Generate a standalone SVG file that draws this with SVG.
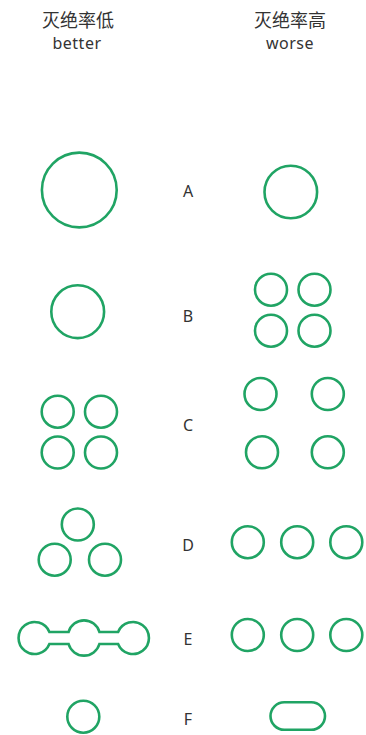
<svg xmlns="http://www.w3.org/2000/svg" width="366" height="735" viewBox="0 0 366 735">
<style>
.s{fill:none;stroke:#20a464;stroke-width:2.6}
.t{font-family:"Noto Sans","Noto Sans CJK SC",sans-serif;font-size:16px;fill:#333;text-anchor:middle}
.c{font-size:18px}
.l{letter-spacing:0.5px}
</style>
<rect width="366" height="735" fill="#fff"/>
<g id="header">
<text class="t c" x="78" y="27">灭绝率低</text>
<text class="t l" x="77" y="49">better</text>
<text class="t c" x="290" y="27">灭绝率高</text>
<text class="t l" x="290" y="49">worse</text>
</g>
<g id="labels">
<text class="t" x="188" y="197">A</text>
<text class="t" x="188" y="322">B</text>
<text class="t" x="188" y="431">C</text>
<text class="t" x="188" y="551">D</text>
<text class="t" x="188" y="645">E</text>
<text class="t" x="188" y="725">F</text>
</g>
<g id="A-better"><circle class="s" cx="79.3" cy="190" r="37.4"/></g>
<g id="A-worse"><circle class="s" cx="290.8" cy="192" r="26.3"/></g>
<g id="B-better"><circle class="s" cx="77.7" cy="311.7" r="26.4"/></g>
<g id="B-worse">
<circle class="s" cx="271" cy="289.7" r="16"/>
<circle class="s" cx="314.5" cy="289.7" r="16"/>
<circle class="s" cx="271" cy="330.7" r="16"/>
<circle class="s" cx="314.5" cy="330.7" r="16"/>
</g>
<g id="C-better">
<circle class="s" cx="57.7" cy="411.7" r="16"/>
<circle class="s" cx="101" cy="411.7" r="16"/>
<circle class="s" cx="57.7" cy="452.5" r="16"/>
<circle class="s" cx="101" cy="452.5" r="16"/>
</g>
<g id="C-worse">
<circle class="s" cx="260.5" cy="394" r="16"/>
<circle class="s" cx="327.8" cy="394" r="16"/>
<circle class="s" cx="262" cy="452.3" r="16"/>
<circle class="s" cx="327.8" cy="452.3" r="16"/>
</g>
<g id="D-better">
<circle class="s" cx="77.8" cy="524.5" r="16"/>
<circle class="s" cx="54.7" cy="559.7" r="16"/>
<circle class="s" cx="105" cy="559.7" r="16"/>
</g>
<g id="D-worse">
<circle class="s" cx="247.8" cy="542.2" r="16"/>
<circle class="s" cx="297.2" cy="542.2" r="16"/>
<circle class="s" cx="346.3" cy="542.2" r="16"/>
</g>
<g id="E-better">
<path class="s" d="M49.4,632 H68.6 A16 16 0 0 1 99.4,632 H118.1 A16 16 0 1 1 118.1,644 H99.4 A16 16 0 0 1 68.6,644 H49.4 A16 16 0 1 1 49.4,632 Z"/>
</g>
<g id="E-worse">
<circle class="s" cx="247.8" cy="635" r="16"/>
<circle class="s" cx="297.2" cy="635" r="16"/>
<circle class="s" cx="346.3" cy="635" r="16"/>
</g>
<g id="F-better"><circle class="s" cx="83.3" cy="716.7" r="16"/></g>
<g id="F-worse"><rect class="s" x="270.5" y="702.3" width="54.5" height="27.5" rx="13.75"/></g>
</svg>
